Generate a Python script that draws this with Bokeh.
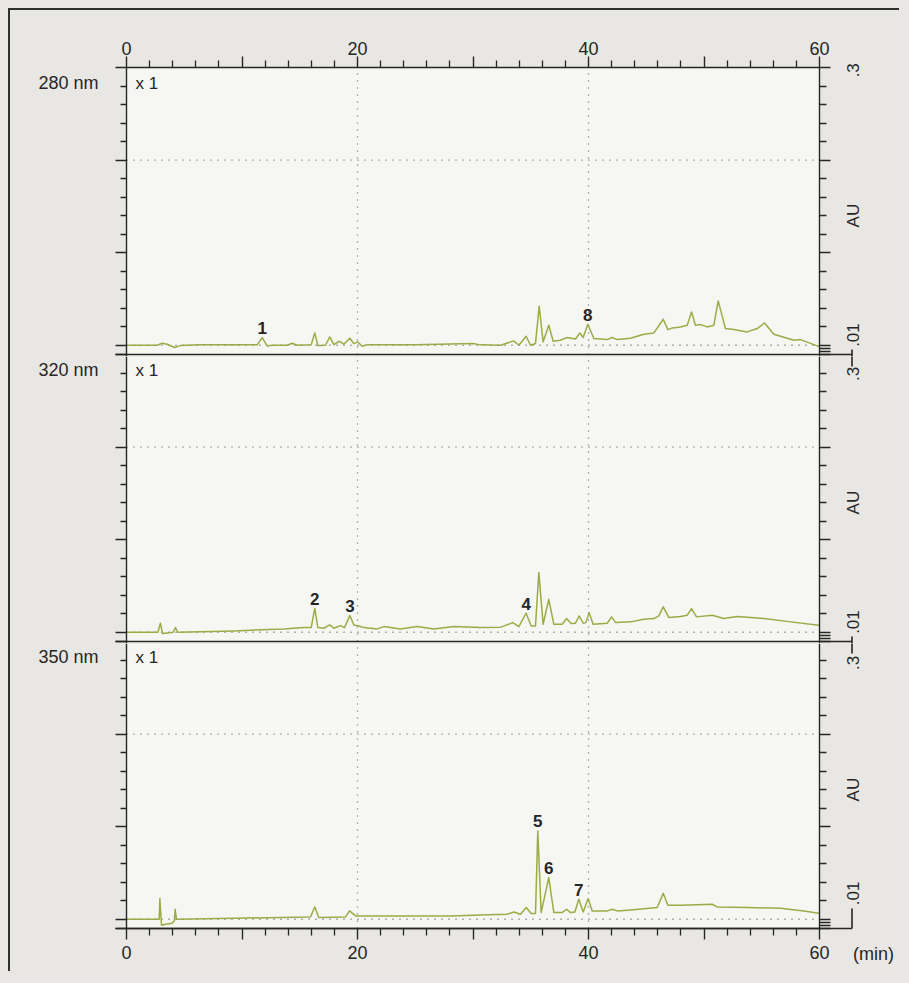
import math
from bokeh.plotting import figure
from bokeh.layouts import column
from bokeh.models import (Range1d, LinearAxis, FixedTicker, Label, BoxAnnotation,
                          CustomJSTickFormatter)
from bokeh.core.properties import value
from bokeh.embed import file_html
from bokeh.resources import INLINE

# ---------------- data (retention time in min, absorbance in AU) ----------------
pts_280 = [(0.0, 0.0), (2.65, 0.0), (3.09, 0.0022), (3.52, 0.0011), (4.16, -0.0025),
           (4.67, -0.0004), (6.4, 0.0004), (11.31, 0.0004), (11.75, 0.0083), (12.18, -0.0007),
           (12.61, 0.0), (13.91, 0.0), (14.34, 0.0022), (14.78, 0.0), (15.99, 0.0004),
           (16.3, 0.0133), (16.57, -0.0004), (17.23, 0.0), (17.6, 0.009), (17.95, 0.0007),
           (18.44, 0.0043), (18.82, 0.0011), (19.34, 0.0076), (19.68, 0.0018), (20.03, 0.0036),
           (20.4, -0.0011), (20.84, 0.0004), (25.0, 0.0006), (30.0, 0.0018), (30.65, 0.0004),
           (32.4, 0.0), (33.53, 0.0047), (33.97, 0.0), (34.6, 0.0097), (34.98, 0.0),
           (35.41, 0.0018), (35.73, 0.0421), (36.07, 0.0036), (36.56, 0.0216), (36.94, 0.0043),
           (37.57, 0.0054), (38.15, 0.0083), (38.87, 0.0068), (39.25, 0.0133), (39.54, 0.0083),
           (39.94, 0.0227), (40.46, 0.0072), (41.62, 0.0061), (42.05, 0.0083), (42.48, 0.0061),
           (43.64, 0.0076), (44.79, 0.0119), (45.66, 0.0133), (46.47, 0.0281), (46.87, 0.0169),
           (47.25, 0.0187), (47.97, 0.0198), (48.55, 0.0216), (48.92, 0.036), (49.26, 0.0216),
           (49.7, 0.0223), (50.27, 0.0198), (50.85, 0.0216), (51.23, 0.0479), (51.86, 0.018),
           (52.59, 0.0169), (53.74, 0.0144), (54.61, 0.018), (55.24, 0.0241), (56.05, 0.0119),
           (57.78, 0.0054), (58.35, 0.0061), (59.8, -0.0007), (60.0, -0.0007)]

pts_320 = [(0.0, 0.0), (2.71, 0.0), (2.94, 0.0097), (3.12, -0.0014), (3.52, -0.0007),
           (4.04, 0.0), (4.24, 0.005), (4.44, 0.0), (9.29, 0.0014), (13.62, 0.0036),
           (15.35, 0.005), (15.99, 0.005), (16.3, 0.0259), (16.57, 0.005), (17.08, 0.0043),
           (17.6, 0.0079), (17.95, 0.0043), (18.53, 0.0072), (18.87, 0.005), (19.34, 0.018),
           (19.68, 0.0079), (20.12, 0.0068), (20.55, 0.005), (21.7, 0.0036), (22.28, 0.0061),
           (23.72, 0.0036), (25.16, 0.0061), (26.6, 0.0036), (28.34, 0.0061), (30.65, 0.005),
           (32.4, 0.0055), (33.45, 0.0104), (33.97, 0.0061), (34.6, 0.0205), (35.04, 0.0068),
           (35.41, 0.0068), (35.7, 0.0644), (36.07, 0.0086), (36.56, 0.0356), (37.0, 0.0086),
           (37.72, 0.0086), (38.1, 0.0148), (38.5, 0.0094), (38.87, 0.0097), (39.19, 0.0176),
           (39.54, 0.0097), (39.77, 0.0104), (40.06, 0.0212), (40.4, 0.0086), (41.62, 0.0097),
           (42.0, 0.0166), (42.34, 0.0104), (43.64, 0.0112), (44.79, 0.014), (45.66, 0.0148),
           (46.09, 0.0176), (46.47, 0.0274), (46.96, 0.0158), (47.97, 0.0169), (48.55, 0.0184),
           (48.92, 0.0256), (49.35, 0.0166), (50.71, 0.0184), (51.72, 0.0148), (52.87, 0.0169),
           (55.18, 0.0148), (57.49, 0.0112), (59.94, 0.0076), (60.0, 0.0076)]

pts_350 = [(0.0, 0.0), (2.83, 0.0), (2.89, 0.0223), (3.03, -0.0065), (3.38, -0.0054),
           (3.95, -0.0043), (4.15, -0.0015), (4.21, 0.0108), (4.33, 0.0), (9.29, 0.0011),
           (15.93, 0.0025), (16.3, 0.0133), (16.65, 0.0018), (18.96, 0.0025), (19.31, 0.009),
           (19.83, 0.0036), (28.05, 0.0036), (30.65, 0.0047), (32.96, 0.0054), (33.53, 0.0079),
           (34.11, 0.0054), (34.6, 0.0126), (35.04, 0.0061), (35.41, 0.0061), (35.61, 0.0954),
           (35.9, 0.0072), (36.56, 0.045), (37.0, 0.0072), (37.72, 0.0072), (38.1, 0.0108),
           (38.44, 0.0072), (38.82, 0.0079), (39.16, 0.0216), (39.54, 0.0079), (39.97, 0.0223),
           (40.32, 0.009), (41.62, 0.009), (42.05, 0.0108), (42.48, 0.009), (43.64, 0.0101),
           (45.95, 0.0126), (46.47, 0.0281), (46.87, 0.0151), (47.97, 0.0151), (50.71, 0.0162),
           (51.14, 0.0133), (53.74, 0.0126), (56.62, 0.0119), (58.64, 0.009), (59.94, 0.0065),
           (60.0, 0.0065)]

wavelengths = [280, 320, 350]
panel_labels = ["280 nm", "320 nm", "350 nm"]
scale_labels = ["x 1", "x 1", "x 1"]
traces = {280: pts_280, 320: pts_320, 350: pts_350}

peak_ids = ["1", "2", "3", "4", "5", "6", "7", "8"]
peak_wl = [280, 320, 320, 320, 350, 350, 350, 280]
peak_rt = [11.75, 16.3, 19.34, 34.6, 35.61, 36.56, 39.16, 39.94]
peak_au = [0.0083, 0.0259, 0.018, 0.0205, 0.0954, 0.045, 0.0216, 0.0227]

x_major = [0, 10, 20, 30, 40, 50, 60]
x_major_labels = ["0", "", "20", "", "40", "", "60"]
x_minor = [2, 4, 6, 8, 12, 14, 16, 18, 22, 24, 26, 28, 32, 34, 36, 38,
           42, 44, 46, 48, 52, 54, 56, 58]
y_major_left = [-0.01, 0.0, 0.1, 0.2, 0.3]
y_major_right = [-0.01, -0.007, -0.0035, 0.0, 0.1, 0.2, 0.3]
y_minor = [0.02, 0.04, 0.06, 0.08, 0.12, 0.14, 0.16, 0.18, 0.22, 0.24, 0.26, 0.28]
ref_times = [20, 40]          # dotted vertical reference lines (min)
ref_levels = [0.0, 0.2]       # dotted horizontal reference lines (AU)
au_min, au_max = -0.01, 0.3
t_min, t_max = 0, 60
au_top_label = ".3"
au_unit_label = "AU"
au_bottom_label = ".01"
time_unit_label = "(min)"

# ---------------- style / layout ----------------
FONT = "Liberation Sans"
INK = "#262626"
DOT = "#6a6a6a"
TRACE = "#9aac46"
PAGE = "#e8e7e3"
PANEL = "#f6f6f3"
FS = "18px"
FS_SMALL = "17px"

CANVAS_W = 889
X0_PX, X60_PX = 116, 809                 # where t=0 and t=60 fall on each canvas
PX_PER_MIN = (X60_PX - X0_PX) / (t_max - t_min)
PANEL_PX = 287
PX_PER_AU = PANEL_PX / (au_max - au_min)
canvas_h = [346, 287, 328]
above_px = [57, -2, -2]                  # canvas space above each panel's top edge

XR = t_max + 32.5 / PX_PER_MIN           # right bracket column
XL = t_min - 11 / PX_PER_MIN             # left end of the panel rules
top_label_y = [0.297, 0.279, 0.277]
bottom_label_y = [0.011, 0.011, 0.028]


def blank():
    return CustomJSTickFormatter(code="return ''")


def style_axis(ax, out_major, out_minor):
    ax.axis_line_color = INK
    ax.axis_line_width = 1.4
    ax.major_tick_line_color = INK
    ax.major_tick_line_width = 1.4
    ax.minor_tick_line_color = INK
    ax.minor_tick_line_width = 1.3
    ax.major_tick_out = out_major
    ax.minor_tick_out = out_minor
    ax.major_tick_in = 0
    ax.minor_tick_in = 0


figs = []
for i, wl in enumerate(wavelengths):
    first = i == 0
    last = i == len(wavelengths) - 1
    h = canvas_h[i]
    y_end = au_max + above_px[i] / PX_PER_AU
    y_start = y_end - h / PX_PER_AU
    lo = au_min if last else y_start
    hi = min(au_max, y_end)
    p = figure(width=CANVAS_W, height=h,
               x_range=Range1d(t_min - X0_PX / PX_PER_MIN, t_max + (CANVAS_W - X60_PX) / PX_PER_MIN),
               y_range=Range1d(y_start, y_end),
               x_axis_location=None, y_axis_location=None,
               output_backend="svg", toolbar_location=None, min_border=0,
               background_fill_color=PAGE, border_fill_color=PAGE, outline_line_color=None)
    p.grid.visible = False

    p.add_layout(BoxAnnotation(left=t_min, right=t_max, bottom=lo, top=hi,
                               fill_color=PANEL, fill_alpha=1.0, line_color=None,
                               level="underlay"))

    # axes, pinned to the panel edges
    yl = LinearAxis(fixed_location=t_min, bounds=(lo, hi), formatter=blank(),
                    ticker=FixedTicker(ticks=y_major_left, minor_ticks=y_minor))
    style_axis(yl, 11, 6)
    p.add_layout(yl, "left")
    yr = LinearAxis(fixed_location=t_max, bounds=(lo, hi), formatter=blank(),
                    ticker=FixedTicker(ticks=y_major_right, minor_ticks=y_minor))
    style_axis(yr, 11, 7)
    p.add_layout(yr, "right")
    if first or last:
        xa = LinearAxis(fixed_location=au_max if first else au_min, bounds=(t_min, t_max),
                        ticker=FixedTicker(ticks=x_major, minor_ticks=x_minor),
                        major_label_overrides={t: s for t, s in zip(x_major, x_major_labels)})
        style_axis(xa, 11, 7)
        xa.major_label_text_font = FONT
        xa.major_label_text_font_size = FS
        xa.major_label_text_color = INK
        xa.major_label_standoff = 2 if first else 6
        p.add_layout(xa, "above" if first else "below")

    # dotted reference lines
    p.segment(x0=ref_times, y0=[au_min] * len(ref_times), x1=ref_times,
              y1=[au_max] * len(ref_times), line_color=DOT, line_dash="1 6", line_width=1.3)
    p.segment(x0=[t_min] * len(ref_levels), y0=ref_levels, x1=[t_max] * len(ref_levels),
              y1=ref_levels, line_color=DOT, line_dash="1 6", line_width=1.3)

    # panel rule and right-hand bracket marks
    rx0, ry0, rx1, ry1 = [XL], [au_min], [XR], [au_min]
    if not first:
        rx0 += [XR]; ry0 += [au_max]; rx1 += [XR]; ry1 += [au_max - 12 / PX_PER_AU]
    if last:
        rx0 += [XR]; ry0 += [au_min]; rx1 += [XR]; ry1 += [au_min + 20 / PX_PER_AU]
    else:
        rx0 += [XR]; ry0 += [au_min + 5 / PX_PER_AU]; rx1 += [XR]; ry1 += [au_min - 12 / PX_PER_AU]
    p.segment(x0=rx0, y0=ry0, x1=rx1, y1=ry1, line_color=INK, line_width=1.6)

    pts = traces[wl]
    p.line(x=[a for a, b in pts], y=[b for a, b in pts], line_color=TRACE,
           line_width=1.5, line_join="round")

    sel = [k for k in range(len(peak_ids)) if peak_wl[k] == wl]
    if sel:
        p.text(x=[peak_rt[k] for k in sel], y=[peak_au[k] + 3.5 / PX_PER_AU for k in sel],
               text=[peak_ids[k] for k in sel], text_font=value(FONT),
               text_font_style="bold", text_font_size="17px", text_color=INK,
               text_align="center", text_baseline="bottom")

    p.add_layout(Label(x=t_min - 28 / PX_PER_MIN, y=0.283, text=panel_labels[i],
                       text_align="right", text_baseline="middle", text_font=FONT,
                       text_font_size=FS, text_color=INK))
    p.add_layout(Label(x=t_min + 9 / PX_PER_MIN, y=0.283, text=scale_labels[i],
                       text_align="left", text_baseline="middle", text_font=FONT,
                       text_font_size=FS_SMALL, text_color=INK))
    for txt, yy in ((au_top_label, top_label_y[i]), (au_unit_label, 0.14),
                    (au_bottom_label, bottom_label_y[i])):
        p.add_layout(Label(x=XR + 1 / PX_PER_MIN, y=yy, text=txt, angle=math.pi / 2,
                           text_align="center", text_baseline="middle",
                           text_font=FONT, text_font_size=FS_SMALL, text_color=INK))
    if last:
        p.add_layout(Label(x=t_max + 54 / PX_PER_MIN, y=au_min - 25 / PX_PER_AU,
                           text=time_unit_label, text_align="center", text_baseline="middle",
                           text_font=FONT, text_font_size=FS, text_color=INK))
    figs.append(p)

layout = column(*figs, styles={"border-top": "2px solid #303030",
                               "border-left": "2px solid #303030"})
html = file_html(layout, INLINE)
html = html.replace("<body>", '<body style="margin:8px;background-color:%s;">' % PAGE)
open("out.html", "w").write(html)
